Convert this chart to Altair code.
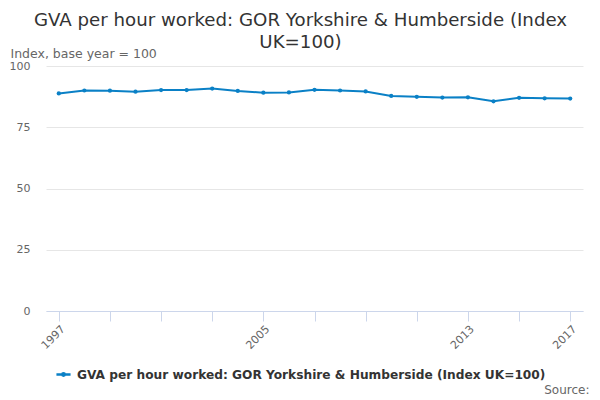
import altair as alt
import pandas as pd

years = list(range(1997, 2018))
values = [88.8, 90.0, 89.9, 89.5, 90.2, 90.2, 90.8, 89.8, 89.1, 89.2, 90.3,
          90.0, 89.6, 87.8, 87.4, 87.1, 87.2, 85.6, 87.0, 86.8, 86.7]
series_name = "GVA per hour worked: GOR Yorkshire & Humberside (Index UK=100)"
title_lines = ["GVA per hour worked: GOR Yorkshire & Humberside (Index", "UK=100)"]
y_ticks = [0, 25, 50, 75, 100]
x_ticks = list(range(1997, 2018, 2))
x_labels = [1997, 2005, 2013, 2017]

df = pd.DataFrame({"year": years, "value": values, "series": series_name})

color = "#0a80c6"
label_expr = " || ".join(f"datum.value == {y}" for y in x_labels)
legend_symbol = "M-1,0L1,0M-0.17,0A0.17,0.17 0 1,0 0.17,0A0.17,0.17 0 1,0 -0.17,0Z"

base = alt.Chart(df).encode(
    x=alt.X("year:Q",
            scale=alt.Scale(domain=[1996.5, 2017.5], nice=False, zero=False),
            axis=alt.Axis(values=x_ticks, labelExpr=f"({label_expr}) ? datum.value : ''",
                          labelAngle=-45, labelAlign="right", labelBaseline="top",
                          labelFontSize=11, labelColor="#666666", labelFont="DejaVu Sans",
                          labelPadding=2, labelOverlap=False,
                          domainColor="#ccd6eb", tickColor="#ccd6eb", tickSize=10,
                          grid=False, title="Source:", titleFont="DejaVu Sans",
                          titleFontSize=12, titleFontWeight="normal", titleColor="#666666",
                          titleAnchor="end", titleAlign="right", titleX=543, titleY=82,
                          titleBaseline="alphabetic")),
    y=alt.Y("value:Q",
            scale=alt.Scale(domain=[0, 100], nice=False),
            axis=alt.Axis(values=y_ticks, labelFontSize=11, labelColor="#666666",
                          labelFont="DejaVu Sans", labelPadding=16, ticks=False, domain=False,
                          gridColor="#e6e6e6", title="Index, base year = 100",
                          titleFont="DejaVu Sans", titleFontSize=12.5,
                          titleFontWeight="normal", titleColor="#666666", titleAngle=0,
                          titleAlign="left", titleBaseline="alphabetic",
                          titleX=-36, titleY=-9)),
    color=alt.Color("series:N", scale=alt.Scale(range=[color]),
                    legend=alt.Legend(title=None, orient="none", legendX=9, legendY=300,
                                      symbolType=legend_symbol, symbolStrokeWidth=2.5,
                                      symbolFillColor=color, symbolSize=200,
                                      labelFontSize=12.2, labelFontWeight="bold",
                                      labelColor="#333333", labelFont="DejaVu Sans",
                                      labelOffset=5, labelLimit=600)),
)

line = base.mark_line(strokeWidth=2)
points = base.mark_point(filled=True, size=18, opacity=1)

chart = (line + points).properties(
    width=537,
    height=245,
    autosize=alt.AutoSizeParams(type="none"),
    padding={"left": 38, "top": 58, "right": 9, "bottom": 88},
    title=alt.TitleParams(text=title_lines, anchor="middle", frame="group", dx=-14, dy=19,
                          font="DejaVu Sans", fontSize=18.2, fontWeight="normal",
                          color="#333333", lineHeight=22, offset=14),
).configure_view(stroke=None)

chart.save("out.html", embed_options={"renderer": "svg", "actions": False})
